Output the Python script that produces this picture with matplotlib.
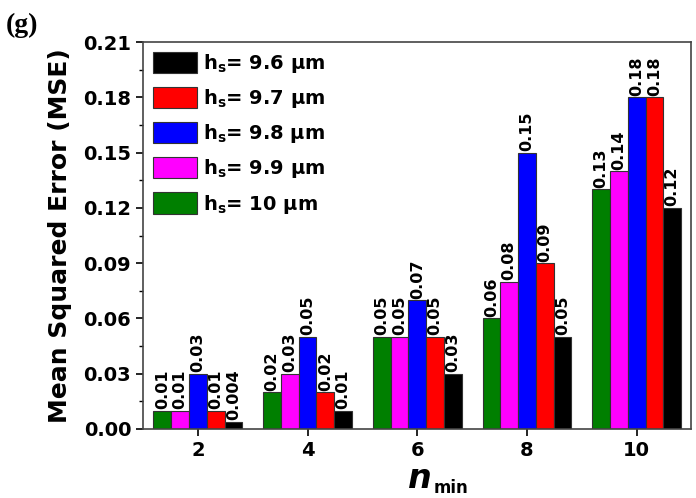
import matplotlib.pyplot as plt
import numpy as np

plt.rcParams['font.family'] = ['DejaVu Sans']
plt.rcParams['font.weight'] = 'bold'
plt.rcParams['mathtext.fontset'] = 'dejavusans'

n_min = [2, 4, 6, 8, 10]
labels = [r'h$_\mathbf{s}$= 10 μm', r'h$_\mathbf{s}$= 9.9 μm', r'h$_\mathbf{s}$= 9.8 μm',
          r'h$_\mathbf{s}$= 9.7 μm', r'h$_\mathbf{s}$= 9.6 μm']
colors = ['#007f00', '#ff00ff', '#0000ff', '#ff0000', '#000000']
h10 = [0.01, 0.02, 0.05, 0.06, 0.13]
h99 = [0.01, 0.03, 0.05, 0.08, 0.14]
h98 = [0.03, 0.05, 0.07, 0.15, 0.18]
h97 = [0.01, 0.02, 0.05, 0.09, 0.18]
h96 = [0.004, 0.01, 0.03, 0.05, 0.12]
series = [h10, h99, h98, h97, h96]

fig = plt.figure(figsize=(6.96, 4.98), dpi=100)
ax = fig.add_axes([0.2055, 0.1386, 0.788, 0.777])

w = 0.324
x = np.array(n_min, dtype=float)
for i, (vals, c, lab) in enumerate(zip(series, colors, labels)):
    pos = x + (i - 2) * w
    ax.bar(pos, vals, width=w, color=c, edgecolor='#333333', linewidth=0.8, label=lab)
    for p, v in zip(pos, vals):
        ax.text(p, v + 0.0008, f'{v:g}', rotation=90, ha='center', va='bottom',
                fontsize=11.5, fontweight='bold')

ax.set_xlim(1, 11)
ax.set_ylim(0, 0.21)
ax.set_xticks(n_min)
ax.set_yticks(np.arange(0, 0.211, 0.03))
ax.set_yticks(np.arange(0.015, 0.21, 0.03), minor=True)
ax.yaxis.set_major_formatter(plt.FormatStrFormatter('%.2f'))
ax.tick_params(axis='both', labelsize=14, width=1.2, length=5)
ax.tick_params(axis='y', which='minor', length=3, width=1.0)
for s in ax.spines.values():
    s.set_linewidth(1.2)
    s.set_color('#444444')

ax.set_ylabel('Mean Squared Error (MSE)', fontsize=18, fontweight='bold', labelpad=8)
ax.text(0.527, -0.085, 'n', transform=ax.transAxes, ha='right', va='top',
        fontsize=24, fontweight='bold', style='italic')
ax.text(0.53, -0.128, 'min', transform=ax.transAxes, ha='left', va='top',
        fontsize=12, fontweight='bold')

h, l = ax.get_legend_handles_labels()
ax.legend(h[::-1], l[::-1], loc='upper left', frameon=False, fontsize=14,
          handlelength=2.3, handleheight=1.3, labelspacing=0.62,
          handletextpad=0.3, borderaxespad=0.2, borderpad=0.3)

fig.text(0.008, 0.975, '(g)', fontsize=20, fontweight='bold', family='Liberation Serif', va='top')

fig.savefig('out.png', dpi=100)
